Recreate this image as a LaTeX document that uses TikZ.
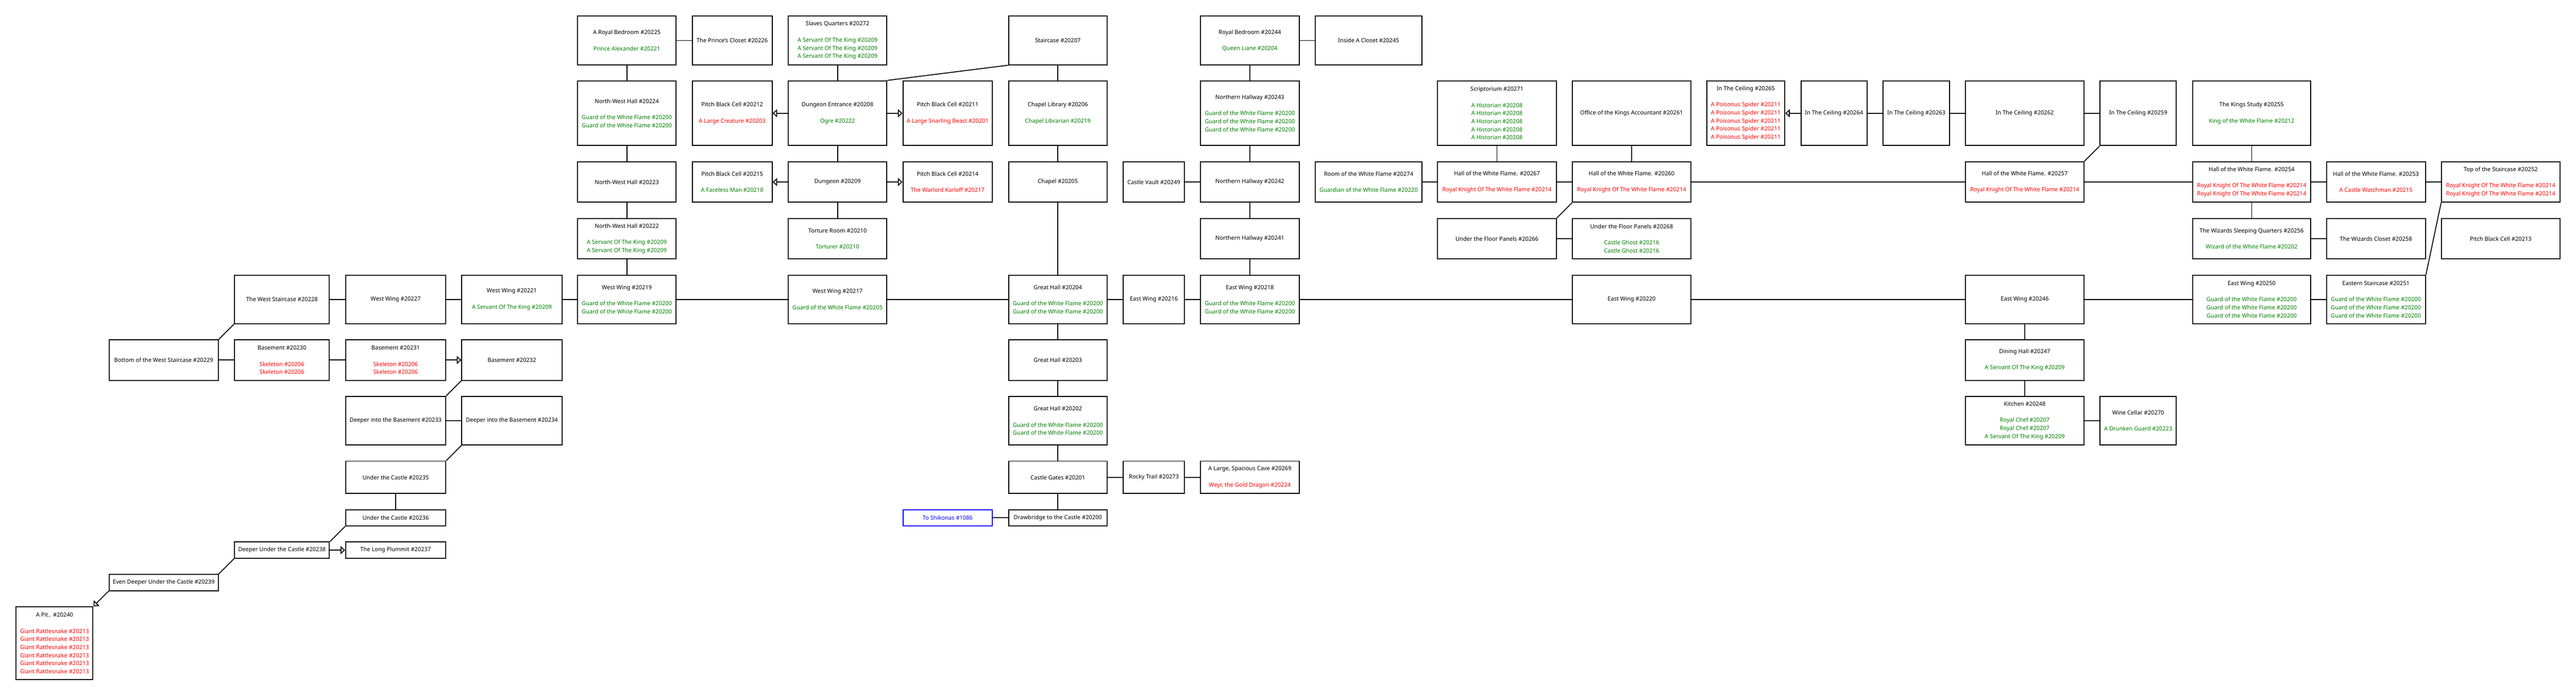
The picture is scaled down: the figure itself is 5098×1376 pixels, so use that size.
\documentclass[tikz,border=0pt]{standalone}
\usepackage{fontspec}
\setmainfont{Noto Sans}
\usetikzlibrary{arrows.meta}
\definecolor{mgreen}{HTML}{008000}
\definecolor{mred}{HTML}{FF0000}
\definecolor{mblue}{HTML}{0000FF}
\newcommand\mobg[1]{\textcolor{mgreen}{#1}}
\newcommand\mobr[1]{\textcolor{mred}{#1}}
\newcommand\rmcolx[1]{\ifcase#1 108\or324\or558\or783\or1013\or1240.5\or1449\or1657.5\or1875.5\or2093.5\or2283.5\or2473.5\or2708.5\or2962.5\or3229\or3455\or3629.5\or3792.5\or4007\or4231.5\or4456\or4702\or4949\fi}
\newcommand\rmcolw[1]{\ifcase#1 152\or216\or188\or198\or198\or195\or158\or195\or177\or195\or121\or195\or211\or235\or234\or154\or131\or131\or234\or151\or234\or196\or234\fi}
\newcommand\rmrowy[1]{\ifcase#1 80\or224\or360\or472\or592\or712\or832\or944\or1024\or1088\or1152\or1272\fi}
\newcommand\rmrowh[1]{\ifcase#1 96\or128\or80\or80\or96\or80\or96\or64\or32\or32\or32\or144\fi}
\newcommand\room[5][]{\edef\rX{\rmcolx{#3}}\edef\rY{\rmrowy{#4}}\edef\rW{\rmcolw{#3}}\edef\rH{\rmrowh{#4}}%
  \node[roombox,minimum width=\rW pt,minimum height=\rH pt,#1] (#2) at (\rX,\rY) {#5};}
\newcommand\gw{\mobg{Guard of the White Flame \#20200}}
\newcommand\rk{\mobr{Royal Knight Of The White Flame \#20214}}
\newcommand\sk{\mobg{A Servant Of The King \#20209}}
\tikzset{
  roombox/.style={draw=black,line width=2pt,fill=white,inner sep=0pt,align=center,
    font=\fontsize{11.3}{16}\selectfont},
  link/.style={draw=black,line width=1.8pt},
  oneway/.style={link,-{Triangle[open,length=9pt,width=16pt]}}
}
\begin{document}
\begin{tikzpicture}[x=1pt,y=-1pt]
\fill[white] (0,0) rectangle (5098,1376);
\useasboundingbox (0,0) rectangle (5098,1376);
% ---- west / underground
\room{pit}{0}{11}{A Pit.. \#20240\\[16pt]\mobr{Giant Rattlesnake \#20213}\\\mobr{Giant Rattlesnake \#20213}\\\mobr{Giant Rattlesnake \#20213}\\\mobr{Giant Rattlesnake \#20213}\\\mobr{Giant Rattlesnake \#20213}\\\mobr{Giant Rattlesnake \#20213}}
\room{bws}{1}{5}{Bottom of the West Staircase \#20229}
\room{edc}{1}{10}{Even Deeper Under the Castle \#20239}
\room{wst}{2}{4}{The West Staircase \#20228}
\room{b230}{2}{5}{Basement \#20230\\[16pt]\mobr{Skeleton \#20206}\\\mobr{Skeleton \#20206}}
\room{duc}{2}{9}{Deeper Under the Castle \#20238}
\room{ww227}{3}{4}{West Wing \#20227}
\room{b231}{3}{5}{Basement \#20231\\[16pt]\mobr{Skeleton \#20206}\\\mobr{Skeleton \#20206}}
\room{dib233}{3}{6}{Deeper into the Basement \#20233}
\room{uc235}{3}{7}{Under the Castle \#20235}
\room{uc236}{3}{8}{Under the Castle \#20236}
\room{lp}{3}{9}{The Long Plummit \#20237}
\room{ww221}{4}{4}{West Wing \#20221\\[16pt]\sk}
\room{b232}{4}{5}{Basement \#20232}
\room{dib234}{4}{6}{Deeper into the Basement \#20234}
% ---- north-west
\room{rb225}{5}{0}{A Royal Bedroom \#20225\\[16pt]\mobg{Prince Alexander \#20221}}
\room{nw224}{5}{1}{North-West Hall \#20224\\[16pt]\gw\\\gw}
\room{nw223}{5}{2}{North-West Hall \#20223}
\room{nw222}{5}{3}{North-West Hall \#20222\\[16pt]\sk\\\sk}
\room{ww219}{5}{4}{West Wing \#20219\\[16pt]\gw\\\gw}
\room{pc226}{6}{0}{The Prince's Closet \#20226}
\room{pbc212}{6}{1}{Pitch Black Cell \#20212\\[16pt]\mobr{A Large Creature \#20203}}
\room{pbc215}{6}{2}{Pitch Black Cell \#20215\\[16pt]\mobg{A Faceless Man \#20218}}
\room{sq}{7}{0}{Slaves Quarters \#20272\\[16pt]\sk\\\sk\\\sk}
\room{de}{7}{1}{Dungeon Entrance \#20208\\[16pt]\mobg{Ogre \#20222}}
\room{dun}{7}{2}{Dungeon \#20209}
\room{tr}{7}{3}{Torture Room \#20210\\[16pt]\mobg{Torturer \#20210}}
\room{ww217}{7}{4}{West Wing \#20217\\[16pt]\mobg{Guard of the White Flame \#20205}}
\room{pbc211}{8}{1}{Pitch Black Cell \#20211\\[16pt]\mobr{A Large Snarling Beast \#20201}}
\room{pbc214}{8}{2}{Pitch Black Cell \#20214\\[16pt]\mobr{The Warlord Karloff \#20217}}
\room[draw=mblue,text=mblue]{shik}{8}{8}{To Shikonas \#1086}
% ---- centre
\room{stc}{9}{0}{Staircase \#20207}
\room{chl}{9}{1}{Chapel Library \#20206\\[16pt]\mobg{Chapel Librarian \#20219}}
\room{chp}{9}{2}{Chapel \#20205}
\room{gh204}{9}{4}{Great Hall \#20204\\[16pt]\gw\\\gw}
\room{gh203}{9}{5}{Great Hall \#20203}
\room{gh202}{9}{6}{Great Hall \#20202\\[16pt]\gw\\\gw}
\room{cg}{9}{7}{Castle Gates \#20201}
\room{db}{9}{8}{Drawbridge to the Castle \#20200}
\room{cv}{10}{2}{Castle Vault \#20249}
\room{ew216}{10}{4}{East Wing \#20216}
\room{rt}{10}{7}{Rocky Trail \#20273}
\room{rb244}{11}{0}{Royal Bedroom \#20244\\[16pt]\mobg{Queen Liane \#20204}}
\room{nh243}{11}{1}{Northern Hallway \#20243\\[16pt]\gw\\\gw\\\gw}
\room{nh242}{11}{2}{Northern Hallway \#20242}
\room{nh241}{11}{3}{Northern Hallway \#20241}
\room{ew218}{11}{4}{East Wing \#20218\\[16pt]\gw\\\gw}
\room{cave}{11}{7}{A Large, Spacious Cave \#20269\\[16pt]\mobr{Weyr, the Gold Dragon \#20224}}
% ---- east
\room{iac}{12}{0}{Inside A Closet \#20245}
\room{rwf}{12}{2}{Room of the White Flame \#20274\\[16pt]\mobg{Guardian of the White Flame \#20220}}
\room{scr}{13}{1}{Scriptorium \#20271\\[16pt]\mobg{A Historian \#20208}\\\mobg{A Historian \#20208}\\\mobg{A Historian \#20208}\\\mobg{A Historian \#20208}\\\mobg{A Historian \#20208}}
\room{h267}{13}{2}{Hall of the White Flame. \#20267\\[16pt]\rk}
\room{uf266}{13}{3}{Under the Floor Panels \#20266}
\room{off}{14}{1}{Office of the Kings Accountant \#20261}
\room{h260}{14}{2}{Hall of the White Flame. \#20260\\[16pt]\rk}
\room{uf268}{14}{3}{Under the Floor Panels \#20268\\[16pt]\mobg{Castle Ghost \#20216}\\\mobg{Castle Ghost \#20216}}
\room{ew220}{14}{4}{East Wing \#20220}
\room{ic265}{15}{1}{In The Ceiling \#20265\\[16pt]\mobr{A Poisonus Spider \#20211}\\\mobr{A Poisonus Spider \#20211}\\\mobr{A Poisonus Spider \#20211}\\\mobr{A Poisonus Spider \#20211}\\\mobr{A Poisonus Spider \#20211}}
\room{ic264}{16}{1}{In The Ceiling \#20264}
\room{ic263}{17}{1}{In The Ceiling \#20263}
\room{ic262}{18}{1}{In The Ceiling \#20262}
\room{h257}{18}{2}{Hall of the White Flame. \#20257\\[16pt]\rk}
\room{ew246}{18}{4}{East Wing \#20246}
\room{dh}{18}{5}{Dining Hall \#20247\\[16pt]\sk}
\room{kit}{18}{6}{Kitchen \#20248\\[16pt]\mobg{Royal Chef \#20207}\\\mobg{Royal Chef \#20207}\\\sk}
\room{ic259}{19}{1}{In The Ceiling \#20259}
\room{wc}{19}{6}{Wine Cellar \#20270\\[16pt]\mobg{A Drunken Guard \#20223}}
\room{ks}{20}{1}{The Kings Study \#20255\\[16pt]\mobg{King of the White Flame \#20212}}
\room{h254}{20}{2}{Hall of the White Flame. \#20254\\[16pt]\rk\\\rk}
\room{wsq}{20}{3}{The Wizards Sleeping Quarters \#20256\\[16pt]\mobg{Wizard of the White Flame \#20202}}
\room{ew250}{20}{4}{East Wing \#20250\\[16pt]\gw\\\gw\\\gw}
\room{h253}{21}{2}{Hall of the White Flame. \#20253\\[16pt]\mobr{A Castle Watchman \#20215}}
\room{wcl}{21}{3}{The Wizards Closet \#20258}
\room{es}{21}{4}{Eastern Staircase \#20251\\[16pt]\gw\\\gw\\\gw}
\room{tos}{22}{2}{Top of the Staircase \#20252\\[16pt]\rk\\\rk}
\room{pbc213}{22}{3}{Pitch Black Cell \#20213}
% ---- connectors
\draw[link] (bws.north east) -- (wst.south west);
\draw[link] (bws) -- (b230);
\draw[link] (wst) -- (ww227);
\draw[link] (ww227) -- (ww221);
\draw[link] (ww221) -- (ww219);
\draw[link] (b230) -- (b231);
\draw[oneway] (b231) -- (b232);
\draw[link] (b232.south west) -- (dib233.north east);
\draw[link] (dib233) -- (dib234);
\draw[link] (dib234.south west) -- (uc235.north east);
\draw[link] (uc235) -- (uc236);
\draw[link] (uc236.south west) -- (duc.north east);
\draw[oneway] (duc) -- (lp);
\draw[link] (duc.south west) -- (edc.north east);
\draw[oneway] (edc.south west) -- (pit.north east);
\draw[link] (ww219) -- (nw222);
\draw[link] (nw222) -- (nw223);
\draw[link] (nw223) -- (nw224);
\draw[link] (nw224) -- (rb225);
\draw[link] (rb225) -- (pc226);
\draw[link] (ww219) -- (ww217);
\draw[link] (ww217) -- (gh204);
\draw[link] (sq) -- (de);
\draw[oneway] (de) -- (pbc212);
\draw[oneway] (de) -- (pbc211);
\draw[link] (de) -- (dun);
\draw[oneway] (dun) -- (pbc215);
\draw[oneway] (dun) -- (pbc214);
\draw[link] (dun) -- (tr);
\draw[link] (de.north east) -- (stc.south west);
\draw[link] (stc) -- (chl);
\draw[link] (chl) -- (chp);
\draw[link] (chp) -- (gh204);
\draw[link] (gh204) -- (gh203);
\draw[link] (gh203) -- (gh202);
\draw[link] (gh202) -- (cg);
\draw[link] (cg) -- (db);
\draw[link] (shik) -- (db);
\draw[link] (gh204) -- (ew216);
\draw[link] (ew216) -- (ew218);
\draw[link] (cg) -- (rt);
\draw[link] (rt) -- (cave);
\draw[link] (cv) -- (nh242);
\draw[link] (rb244) -- (nh243);
\draw[link] (nh243) -- (nh242);
\draw[link] (nh242) -- (nh241);
\draw[link] (nh241) -- (ew218);
\draw[link] (rb244) -- (iac);
\draw[link] (rwf) -- (h267);
\draw[link] (scr) -- (h267);
\draw[link] (h267) -- (h260);
\draw[link] (off) -- (h260);
\draw[link] (h260.south west) -- (uf266.north east);
\draw[link] (uf266) -- (uf268);
\draw[link] (h260) -- (h257);
\draw[link] (ew218) -- (ew220);
\draw[link] (ew220) -- (ew246);
\draw[oneway] (ic264) -- (ic265);
\draw[link] (ic264) -- (ic263);
\draw[link] (ic263) -- (ic262);
\draw[link] (ic262) -- (ic259);
\draw[link] (h257.north east) -- (ic259.south west);
\draw[link] (h257) -- (h254);
\draw[link] (ew246) -- (ew250);
\draw[link] (ew246) -- (dh);
\draw[link] (dh) -- (kit);
\draw[link] (kit) -- (wc);
\draw[link] (ks) -- (h254);
\draw[link] (h254) -- (wsq);
\draw[link] (h254) -- (h253);
\draw[link] (h253) -- (tos);
\draw[link] (wsq) -- (wcl);
\draw[link] (ew250) -- (es);
\draw[link] (es.north east) -- (tos.south west);
\end{tikzpicture}
\end{document}
